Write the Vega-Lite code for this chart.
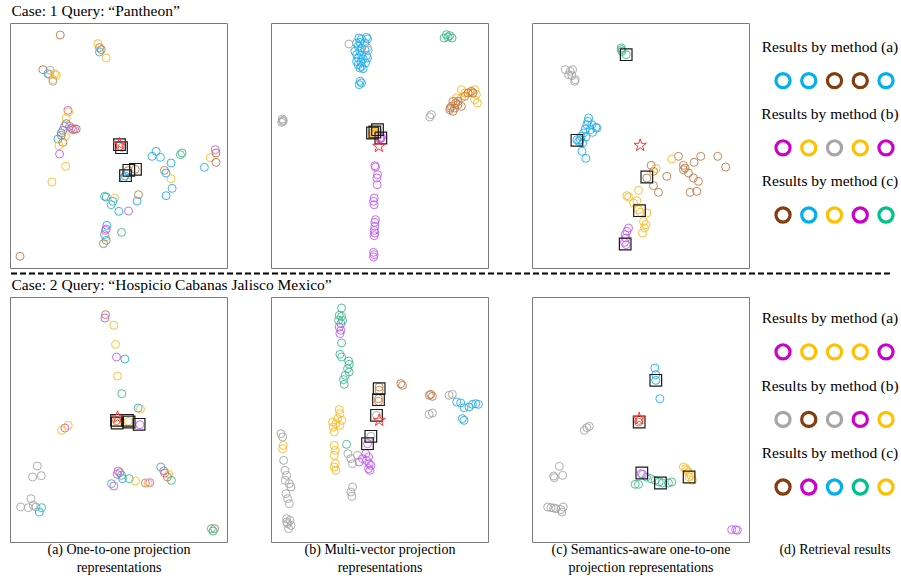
{
  "$schema": "https://vega.github.io/schema/vega-lite/v6.json",
  "padding": {"left": 9, "top": 4, "right": 0, "bottom": 0},
  "background": "white",
  "config": {
    "view": {"stroke": "#7a7a7a", "strokeWidth": 1},
    "title": {"font": "Liberation Serif", "fontSize": 15.5, "fontWeight": "normal", "color": "#000000", "anchor": "start", "offset": 3},
    "axis": {"labels": false, "ticks": false, "domain": false, "grid": false, "titleFont": "Liberation Serif", "titleFontSize": 14, "titleFontWeight": "normal", "titleColor": "#000000", "titlePadding": 0, "titleLineHeight": 18}
  },
  "datasets": {
    "a1": [
      {"x":15.1,"y":69.9,"c":"brown"},{"x":26.4,"y":67.3,"c":"orange"},{"x":26.9,"y":66.1,"c":"brown"},{"x":27.4,"y":65.5,"c":"brown"},{"x":26.9,"y":64.8,"c":"blue"},{"x":28.9,"y":63,"c":"orange"},
      {"x":9.9,"y":59.5,"c":"brown"},{"x":11.4,"y":58.3,"c":"blue"},{"x":12.1,"y":59.3,"c":"gray"},{"x":11.9,"y":58,"c":"gray"},{"x":13.4,"y":58.3,"c":"orange"},{"x":13.9,"y":57.8,"c":"orange"},{"x":12.9,"y":56.5,"c":"orange"},{"x":12.9,"y":56,"c":"gray"},
      {"x":17.4,"y":47.3,"c":"purple"},{"x":17.6,"y":46.8,"c":"orange"},{"x":16.9,"y":45,"c":"orange"},{"x":16.9,"y":43.3,"c":"brown"},{"x":16.4,"y":42.5,"c":"blue"},{"x":17.9,"y":42.5,"c":"brown"},{"x":18.4,"y":41.9,"c":"purple"},{"x":19.4,"y":41.7,"c":"purple"},{"x":18.9,"y":41.5,"c":"brown"},{"x":19.9,"y":41.7,"c":"brown"},{"x":15.9,"y":41.3,"c":"purple"},{"x":15.4,"y":40.5,"c":"blue"},{"x":16.7,"y":39.5,"c":"orange"},{"x":15.4,"y":39.8,"c":"brown"},{"x":15.9,"y":37.7,"c":"brown"},{"x":14.4,"y":38.7,"c":"blue"},{"x":14.7,"y":36.7,"c":"orange"},{"x":14.9,"y":34.2,"c":"purple"},{"x":16.7,"y":30.5,"c":"orange"},{"x":12.6,"y":25.8,"c":"orange"},
      {"x":33,"y":36.6,"c":"blue"},{"x":33.6,"y":36.2,"c":"brown"},{"x":37.6,"y":29.6,"c":"brown"},{"x":35.5,"y":29.2,"c":"brown"},{"x":34.6,"y":27.6,"c":"blue"},{"x":34.2,"y":27.1,"c":"blue"},
      {"x":43.9,"y":35,"c":"blue"},{"x":42.7,"y":33.5,"c":"blue"},{"x":45.2,"y":33.2,"c":"blue"},{"x":48.4,"y":31.5,"c":"blue"},{"x":51.7,"y":34.5,"c":"teal"},{"x":51.2,"y":34,"c":"teal"},{"x":46.4,"y":29.3,"c":"brown"},{"x":46.9,"y":28.5,"c":"blue"},{"x":48.4,"y":26.8,"c":"orange"},{"x":48.7,"y":23.9,"c":"blue"},{"x":46.9,"y":21.7,"c":"blue"},
      {"x":58.4,"y":30.2,"c":"blue"},{"x":60.2,"y":33.1,"c":"orange"},{"x":61.7,"y":35.5,"c":"purple"},{"x":61.9,"y":34.5,"c":"brown"},{"x":61.9,"y":31.7,"c":"brown"},
      {"x":38.6,"y":22,"c":"brown"},{"x":38.2,"y":20.1,"c":"blue"},{"x":28.4,"y":21.5,"c":"teal"},{"x":28.9,"y":21.3,"c":"blue"},{"x":31.4,"y":21,"c":"orange"},{"x":30.9,"y":20,"c":"blue"},{"x":30.4,"y":19,"c":"teal"},{"x":32.7,"y":17,"c":"blue"},{"x":35.6,"y":17.1,"c":"purple"},
      {"x":29.1,"y":12.8,"c":"blue"},{"x":28.9,"y":11.7,"c":"purple"},{"x":28.7,"y":11.3,"c":"purple"},{"x":28.4,"y":10,"c":"blue"},{"x":28.7,"y":9.3,"c":"orange"},{"x":28.9,"y":8.3,"c":"blue"},{"x":28.1,"y":7.3,"c":"brown"},{"x":33.5,"y":10.7,"c":"teal"},{"x":3,"y":3.5,"c":"brown"},
      {"x":32.9,"y":37,"k":"r"},{"x":33.5,"y":36.1,"k":"r"},{"x":37.7,"y":29.6,"k":"r"},{"x":35.7,"y":29.3,"k":"r"},{"x":34.7,"y":27.7,"k":"r"},
      {"x":32.9,"y":37.2,"k":"q"}
    ],
    "b1": [
      {"x":26.4,"y":69,"c":"blue"},{"x":27.2,"y":68.7,"c":"blue"},{"x":28.7,"y":69.2,"c":"blue"},{"x":29,"y":68.7,"c":"blue"},{"x":25.7,"y":67.5,"c":"blue"},{"x":26.7,"y":67.7,"c":"blue"},{"x":28.2,"y":67.5,"c":"blue"},{"x":26.2,"y":66.5,"c":"blue"},{"x":27.2,"y":66,"c":"blue"},{"x":25.2,"y":65,"c":"blue"},{"x":26.7,"y":65,"c":"blue"},{"x":28.2,"y":65.5,"c":"blue"},{"x":25.7,"y":64,"c":"blue"},{"x":27.2,"y":64,"c":"blue"},{"x":28.7,"y":63.7,"c":"blue"},{"x":26.2,"y":63,"c":"blue"},{"x":27.7,"y":62.7,"c":"blue"},{"x":29,"y":63,"c":"blue"},{"x":25.7,"y":62,"c":"blue"},{"x":27,"y":61.7,"c":"blue"},{"x":28.4,"y":61.5,"c":"blue"},{"x":26.2,"y":61,"c":"blue"},{"x":27.2,"y":60.5,"c":"blue"},{"x":26.7,"y":60,"c":"blue"},{"x":27.7,"y":59.8,"c":"blue"},{"x":26.8,"y":56,"c":"blue"},{"x":27.2,"y":55.5,"c":"blue"},{"x":26.5,"y":55,"c":"blue"},
      {"x":23.4,"y":67.2,"c":"gray"},{"x":29,"y":66,"c":"gray"},{"x":29.2,"y":65.3,"c":"gray"},{"x":3.4,"y":44.7,"c":"gray"},{"x":3.7,"y":44.3,"c":"gray"},{"x":3.2,"y":43.7,"c":"gray"},{"x":3.5,"y":44,"c":"gray"},{"x":47.7,"y":45.3,"c":"gray"},{"x":48.2,"y":46,"c":"gray"},
      {"x":52.7,"y":70,"c":"teal"},{"x":53.7,"y":69.7,"c":"teal"},{"x":54.4,"y":69,"c":"teal"},{"x":53.2,"y":69.3,"c":"teal"},{"x":52,"y":69,"c":"teal"},
      {"x":57.2,"y":53.5,"c":"orange"},{"x":58.2,"y":52.5,"c":"orange"},{"x":55.7,"y":51,"c":"orange"},{"x":61.2,"y":53.5,"c":"orange"},{"x":61.7,"y":52,"c":"orange"},{"x":61.2,"y":50.5,"c":"orange"},{"x":62,"y":49.5,"c":"orange"},{"x":57.2,"y":51,"c":"orange"},{"x":59.7,"y":52.8,"c":"orange"},
      {"x":59.2,"y":52.5,"c":"brown"},{"x":60.2,"y":53,"c":"brown"},{"x":54.7,"y":50,"c":"brown"},{"x":54.2,"y":48.5,"c":"brown"},{"x":55.2,"y":48,"c":"brown"},{"x":56.2,"y":49,"c":"brown"},{"x":57.2,"y":48.5,"c":"brown"},{"x":53.7,"y":47.5,"c":"brown"},{"x":54.7,"y":47,"c":"brown"},{"x":58.2,"y":51.5,"c":"brown"},{"x":60.7,"y":52.5,"c":"brown"},{"x":56.2,"y":50,"c":"brown"},{"x":55.5,"y":49.5,"c":"brown"},{"x":53.9,"y":48,"c":"brown"},
      {"x":30.5,"y":40.5,"c":"orange"},{"x":31.2,"y":40.3,"c":"orange"},{"x":31.7,"y":41,"c":"orange"},{"x":30.8,"y":40.8,"c":"orange"},{"x":31.5,"y":40.6,"c":"orange"},{"x":30.9,"y":40.1,"c":"orange"},{"x":31.9,"y":41.3,"c":"orange"},
      {"x":33,"y":39,"c":"purple"},{"x":32.7,"y":38.7,"c":"purple"},{"x":33.2,"y":39.2,"c":"purple"},{"x":32.9,"y":38.9,"c":"purple"},
      {"x":31.2,"y":30.7,"c":"purple"},{"x":31.4,"y":30.3,"c":"purple"},{"x":32,"y":28,"c":"purple"},{"x":31.8,"y":27,"c":"purple"},{"x":31.9,"y":25,"c":"purple"},{"x":31,"y":21,"c":"purple"},{"x":30.8,"y":20,"c":"purple"},{"x":31,"y":19,"c":"purple"},{"x":31.4,"y":14.5,"c":"purple"},{"x":31.2,"y":13.7,"c":"purple"},{"x":31.2,"y":12.5,"c":"purple"},{"x":31,"y":11.3,"c":"purple"},{"x":31.2,"y":10.5,"c":"purple"},{"x":31,"y":9.7,"c":"purple"},{"x":30.8,"y":4.7,"c":"purple"},{"x":31,"y":4,"c":"purple"},{"x":30.8,"y":3.3,"c":"purple"},
      {"x":32,"y":41.5,"k":"r"},{"x":30.5,"y":40.5,"k":"r"},{"x":31.2,"y":40.8,"k":"r"},{"x":33,"y":39,"k":"r"},
      {"x":32.4,"y":36.5,"k":"q"}
    ],
    "c1": [
      {"x":26.8,"y":66,"c":"teal"},{"x":27,"y":65,"c":"teal"},{"x":28.3,"y":64,"c":"teal"},{"x":26.9,"y":65.5,"c":"teal"},
      {"x":10,"y":59.5,"c":"gray"},{"x":11.5,"y":59,"c":"gray"},{"x":12.2,"y":59.5,"c":"gray"},{"x":11,"y":58,"c":"gray"},{"x":12,"y":57.7,"c":"gray"},{"x":13,"y":56.5,"c":"gray"},{"x":12.8,"y":56,"c":"gray"},
      {"x":17,"y":45,"c":"blue"},{"x":16.8,"y":44,"c":"blue"},{"x":16.5,"y":43,"c":"blue"},{"x":18,"y":43,"c":"blue"},{"x":19.2,"y":42.2,"c":"blue"},{"x":16,"y":41.7,"c":"blue"},{"x":17.5,"y":41.5,"c":"blue"},{"x":15.5,"y":40.5,"c":"blue"},{"x":18.2,"y":40.7,"c":"blue"},{"x":14.8,"y":39.5,"c":"blue"},{"x":16.2,"y":39.3,"c":"blue"},{"x":14,"y":38,"c":"blue"},{"x":15.2,"y":37.5,"c":"blue"},{"x":13.5,"y":38.5,"c":"blue"},{"x":14.5,"y":38.5,"c":"blue"},{"x":19.5,"y":42,"c":"blue"},{"x":15,"y":35,"c":"blue"},{"x":16.2,"y":32.9,"c":"blue"},
      {"x":44,"y":33.5,"c":"brown"},{"x":50.7,"y":33.5,"c":"brown"},{"x":55.8,"y":33.5,"c":"brown"},{"x":58.2,"y":30.3,"c":"brown"},{"x":48.7,"y":31.7,"c":"brown"},{"x":45.5,"y":30.8,"c":"brown"},{"x":46,"y":30,"c":"brown"},{"x":45.5,"y":29.5,"c":"brown"},{"x":47,"y":28.5,"c":"brown"},{"x":48.5,"y":27,"c":"brown"},{"x":50,"y":26,"c":"brown"},{"x":47.5,"y":22.7,"c":"brown"},{"x":49.5,"y":23,"c":"brown"},{"x":40.5,"y":27.5,"c":"brown"},{"x":35.8,"y":30.8,"c":"brown"},{"x":36.5,"y":29,"c":"brown"},{"x":34.5,"y":27,"c":"brown"},{"x":36.5,"y":24.7,"c":"brown"},{"x":38,"y":22.7,"c":"brown"},
      {"x":42,"y":32.7,"c":"orange"},{"x":37.3,"y":29.8,"c":"orange"},{"x":32,"y":23.3,"c":"orange"},{"x":28.5,"y":21.7,"c":"orange"},{"x":29,"y":21.3,"c":"orange"},{"x":31.5,"y":20.2,"c":"orange"},{"x":30.5,"y":19.5,"c":"orange"},{"x":32,"y":17.5,"c":"orange"},{"x":34.5,"y":16.5,"c":"orange"},{"x":32.5,"y":16.7,"c":"orange"},{"x":33.5,"y":14,"c":"orange"},{"x":34.2,"y":13,"c":"orange"},{"x":33.8,"y":12,"c":"orange"},{"x":33.2,"y":10.5,"c":"orange"},
      {"x":29,"y":12,"c":"purple"},{"x":28.5,"y":11,"c":"purple"},{"x":28,"y":10,"c":"purple"},{"x":28.2,"y":9,"c":"purple"},{"x":27.8,"y":7.7,"c":"purple"},{"x":28.3,"y":7,"c":"purple"},
      {"x":28.3,"y":64,"k":"r"},{"x":13.5,"y":38.3,"k":"r"},{"x":34.5,"y":27.3,"k":"r"},{"x":32.3,"y":17.2,"k":"r"},{"x":28,"y":7.2,"k":"r"},
      {"x":32.5,"y":36.8,"k":"q"}
    ],
    "a2": [
      {"x":28.7,"y":68.2,"c":"brown"},{"x":28.5,"y":67.2,"c":"purple"},{"x":31.2,"y":65,"c":"orange"},{"x":31.7,"y":59.3,"c":"orange"},{"x":32,"y":55.5,"c":"purple"},{"x":34.5,"y":54.9,"c":"blue"},{"x":32.3,"y":49.8,"c":"orange"},{"x":33.6,"y":44.5,"c":"teal"},{"x":38.5,"y":40.2,"c":"blue"},{"x":39.2,"y":39.9,"c":"orange"},
      {"x":32,"y":36.4,"c":"brown"},{"x":32.3,"y":35.8,"c":"orange"},{"x":35.5,"y":36.2,"c":"orange"},{"x":39,"y":35.2,"c":"purple"},
      {"x":17.5,"y":35,"c":"orange"},{"x":16.5,"y":34.2,"c":"purple"},{"x":15.5,"y":33.5,"c":"orange"},
      {"x":8.2,"y":22.8,"c":"gray"},{"x":6.8,"y":19.5,"c":"gray"},{"x":9.4,"y":19.9,"c":"gray"},{"x":6.3,"y":13,"c":"gray"},{"x":3.2,"y":10.5,"c":"gray"},{"x":5.5,"y":10.3,"c":"gray"},{"x":7,"y":11,"c":"gray"},{"x":7.8,"y":10.5,"c":"gray"},{"x":9.5,"y":10.3,"c":"teal"},{"x":8.8,"y":9,"c":"blue"},
      {"x":32.5,"y":21.3,"c":"purple"},{"x":33,"y":20.8,"c":"brown"},{"x":32.2,"y":20.3,"c":"purple"},{"x":33.5,"y":20,"c":"teal"},{"x":33.8,"y":19,"c":"blue"},{"x":35.8,"y":19,"c":"teal"},{"x":37.7,"y":18.3,"c":"orange"},{"x":30.5,"y":17.5,"c":"teal"},{"x":31.2,"y":16.8,"c":"purple"},{"x":40.7,"y":17.7,"c":"brown"},{"x":42,"y":17.8,"c":"purple"},{"x":41.5,"y":17.7,"c":"orange"},
      {"x":45.3,"y":22.5,"c":"teal"},{"x":46.2,"y":21.3,"c":"purple"},{"x":46.5,"y":20.7,"c":"brown"},{"x":47.7,"y":20.3,"c":"orange"},{"x":47.3,"y":19.5,"c":"brown"},{"x":48.5,"y":18.5,"c":"teal"},
      {"x":60.5,"y":4,"c":"teal"},{"x":61.5,"y":4,"c":"brown"},{"x":61,"y":3.3,"c":"teal"},
      {"x":32,"y":36.5,"k":"r"},{"x":32.2,"y":35.7,"k":"r"},{"x":35.3,"y":36.5,"k":"r"},{"x":35.8,"y":36,"k":"r"},{"x":38.8,"y":35.3,"k":"r"},
      {"x":32.3,"y":37.4,"k":"q"}
    ],
    "b2": [
      {"x":21.2,"y":70.2,"c":"teal"},{"x":20.5,"y":68,"c":"teal"},{"x":21.2,"y":67.7,"c":"teal"},{"x":20.3,"y":66.5,"c":"teal"},{"x":21.5,"y":66.5,"c":"teal"},{"x":21,"y":65.5,"c":"teal"},{"x":21.2,"y":59.7,"c":"teal"},{"x":20.7,"y":56.3,"c":"teal"},{"x":21.2,"y":55.5,"c":"teal"},{"x":23.3,"y":54.3,"c":"teal"},{"x":23.5,"y":53.3,"c":"teal"},{"x":23,"y":52,"c":"teal"},{"x":23.5,"y":51,"c":"teal"},{"x":22.3,"y":50,"c":"teal"},{"x":21.8,"y":48.7,"c":"teal"},{"x":22,"y":47.3,"c":"teal"},{"x":22.7,"y":29.3,"c":"teal"},
      {"x":20.5,"y":64.5,"c":"purple"},{"x":21,"y":63.5,"c":"purple"},{"x":20.7,"y":62.5,"c":"purple"},
      {"x":32.5,"y":46.5,"c":"brown"},{"x":32.5,"y":45.5,"c":"brown"},{"x":32.3,"y":43,"c":"brown"},{"x":32.3,"y":42.2,"c":"brown"},{"x":39,"y":47.5,"c":"brown"},{"x":39.5,"y":47,"c":"brown"},{"x":48,"y":44.3,"c":"brown"},{"x":48.5,"y":43.7,"c":"brown"},{"x":47.6,"y":44,"c":"brown"},
      {"x":53.5,"y":44,"c":"gray"},{"x":54.5,"y":44.3,"c":"gray"},{"x":47.5,"y":38.3,"c":"gray"},{"x":48.5,"y":38.7,"c":"gray"},{"x":31.7,"y":38,"c":"gray"},{"x":30,"y":31.7,"c":"gray"},
      {"x":55.8,"y":42,"c":"blue"},{"x":57,"y":41.7,"c":"blue"},{"x":58,"y":40.3,"c":"blue"},{"x":59.5,"y":40.5,"c":"blue"},{"x":60.5,"y":41.3,"c":"blue"},{"x":61.5,"y":41.5,"c":"blue"},{"x":62.3,"y":41.3,"c":"blue"},{"x":57.5,"y":37,"c":"blue"},{"x":58,"y":36.5,"c":"blue"},
      {"x":20.5,"y":39.7,"c":"orange"},{"x":20.7,"y":38.5,"c":"orange"},{"x":20,"y":37,"c":"orange"},{"x":21.3,"y":36.5,"c":"orange"},{"x":18.5,"y":36,"c":"orange"},{"x":19.5,"y":35.5,"c":"orange"},{"x":20.7,"y":35,"c":"orange"},{"x":18.7,"y":34.5,"c":"orange"},{"x":19,"y":33,"c":"orange"},{"x":19,"y":29,"c":"orange"},{"x":19.3,"y":27.5,"c":"orange"},{"x":19,"y":26,"c":"orange"},{"x":19.3,"y":23.5,"c":"orange"},{"x":19,"y":22.5,"c":"orange"},{"x":19.5,"y":21.5,"c":"orange"},
      {"x":23.1,"y":26.5,"c":"gray"},{"x":24,"y":25,"c":"gray"},{"x":24.5,"y":23.5,"c":"gray"},{"x":26,"y":26,"c":"gray"},{"x":24.5,"y":16.5,"c":"gray"},{"x":24,"y":15,"c":"gray"},{"x":24.3,"y":13.7,"c":"gray"},
      {"x":29,"y":29.5,"c":"purple"},{"x":26.5,"y":24,"c":"purple"},{"x":28.5,"y":26.5,"c":"purple"},{"x":29.3,"y":25.5,"c":"purple"},{"x":28.7,"y":24.5,"c":"purple"},{"x":29.5,"y":23.5,"c":"purple"},{"x":30,"y":23,"c":"purple"},{"x":29.3,"y":22,"c":"purple"},{"x":29.7,"y":21.5,"c":"purple"},{"x":27.5,"y":25,"c":"purple"},
      {"x":3,"y":32.5,"c":"gray"},{"x":3.5,"y":31.5,"c":"gray"},{"x":3.8,"y":24.5,"c":"gray"},{"x":4.2,"y":21.5,"c":"gray"},{"x":4.7,"y":20,"c":"gray"},{"x":4.3,"y":18.5,"c":"gray"},{"x":5.5,"y":17.5,"c":"gray"},{"x":6,"y":16.5,"c":"gray"},{"x":4.5,"y":14.5,"c":"gray"},{"x":5,"y":13,"c":"gray"},{"x":5.5,"y":11.5,"c":"gray"},{"x":4.7,"y":7,"c":"gray"},{"x":5.7,"y":6.5,"c":"gray"},{"x":5,"y":5.5,"c":"gray"},{"x":6,"y":5,"c":"gray"},{"x":5.3,"y":4,"c":"gray"},{"x":4.7,"y":6,"c":"gray"},
      {"x":3.7,"y":29,"c":"orange"},{"x":3.5,"y":28,"c":"orange"},
      {"x":32.5,"y":46,"k":"r"},{"x":32.3,"y":42.7,"k":"r"},{"x":31.7,"y":38,"k":"r"},{"x":30,"y":31.7,"k":"r"},{"x":29,"y":29.5,"k":"r"},
      {"x":32.5,"y":36.5,"k":"q"}
    ],
    "c2": [
      {"x":36.9,"y":52.2,"c":"blue"},{"x":37.2,"y":50.2,"c":"blue"},{"x":37.2,"y":48.5,"c":"blue"},{"x":38.4,"y":43,"c":"blue"},
      {"x":32.2,"y":36.5,"c":"brown"},{"x":32,"y":36,"c":"brown"},
      {"x":15.7,"y":33.5,"c":"gray"},{"x":16.5,"y":34.3,"c":"gray"},{"x":17.2,"y":34.7,"c":"gray"},
      {"x":8.2,"y":22.7,"c":"gray"},{"x":6.5,"y":19.8,"c":"gray"},{"x":9.2,"y":20,"c":"gray"},{"x":6.7,"y":19.3,"c":"gray"},
      {"x":4.7,"y":10.5,"c":"gray"},{"x":5.7,"y":10.3,"c":"gray"},{"x":7.2,"y":10,"c":"gray"},{"x":8.7,"y":9.7,"c":"gray"},{"x":9.4,"y":10.5,"c":"gray"},{"x":9,"y":9,"c":"gray"},{"x":6.5,"y":10.2,"c":"gray"},
      {"x":32.8,"y":20.5,"c":"purple"},{"x":33.2,"y":20.3,"c":"purple"},
      {"x":31,"y":17.3,"c":"teal"},{"x":32,"y":17.3,"c":"teal"},{"x":34.4,"y":19.5,"c":"teal"},{"x":35.7,"y":19,"c":"teal"},{"x":37,"y":18.5,"c":"teal"},{"x":38.2,"y":18,"c":"teal"},{"x":39.2,"y":17.7,"c":"teal"},{"x":41,"y":17.7,"c":"teal"},{"x":42,"y":18,"c":"teal"},
      {"x":45.5,"y":22.5,"c":"orange"},{"x":46.2,"y":22,"c":"orange"},{"x":47,"y":21,"c":"orange"},{"x":47.7,"y":20,"c":"orange"},{"x":48.2,"y":18.5,"c":"orange"},{"x":47.2,"y":19.5,"c":"orange"},{"x":46.5,"y":21.5,"c":"orange"},
      {"x":60,"y":3.7,"c":"purple"},{"x":61.2,"y":3.7,"c":"purple"},{"x":61.7,"y":3.5,"c":"purple"},
      {"x":37.2,"y":48.5,"k":"r"},{"x":32.2,"y":36,"k":"r"},{"x":33,"y":20.7,"k":"r"},{"x":38.6,"y":17.7,"k":"r"},{"x":47.2,"y":19.5,"k":"r"},
      {"x":32.2,"y":37,"k":"q"}
    ],
    "l1": [
      {"line":"ha","label":"Results by method (a)"},{"line":"hb","label":"Results by method (b)"},{"line":"hc","label":"Results by method (c)"},
      {"line":"ca","rank":1,"c":"blue"},{"line":"ca","rank":2,"c":"blue"},{"line":"ca","rank":3,"c":"brown"},{"line":"ca","rank":4,"c":"brown"},{"line":"ca","rank":5,"c":"blue"},
      {"line":"cb","rank":1,"c":"magenta"},{"line":"cb","rank":2,"c":"orange"},{"line":"cb","rank":3,"c":"gray"},{"line":"cb","rank":4,"c":"orange"},{"line":"cb","rank":5,"c":"magenta"},
      {"line":"cc","rank":1,"c":"brown"},{"line":"cc","rank":2,"c":"blue"},{"line":"cc","rank":3,"c":"orange"},{"line":"cc","rank":4,"c":"magenta"},{"line":"cc","rank":5,"c":"teal"}
    ],
    "l2": [
      {"line":"ha","label":"Results by method (a)"},{"line":"hb","label":"Results by method (b)"},{"line":"hc","label":"Results by method (c)"},
      {"line":"ca","rank":1,"c":"magenta"},{"line":"ca","rank":2,"c":"orange"},{"line":"ca","rank":3,"c":"orange"},{"line":"ca","rank":4,"c":"orange"},{"line":"ca","rank":5,"c":"magenta"},
      {"line":"cb","rank":1,"c":"gray"},{"line":"cb","rank":2,"c":"brown"},{"line":"cb","rank":3,"c":"gray"},{"line":"cb","rank":4,"c":"magenta"},{"line":"cb","rank":5,"c":"orange"},
      {"line":"cc","rank":1,"c":"brown"},{"line":"cc","rank":2,"c":"magenta"},{"line":"cc","rank":3,"c":"blue"},{"line":"cc","rank":4,"c":"teal"},{"line":"cc","rank":5,"c":"orange"}
    ]
  },
  "spacing": 3,
  "resolve": {"scale": {"color": "independent"}},
  "vconcat": [
    {
      "title": {"text": "Case: 1 Query: “Pantheon”", "dx": 2},
      "spacing": 10,
      "resolve": {"scale": {"color": "independent"}},
      "hconcat": [
        {
          "spacing": 42,
          "hconcat": [
            {"width":217,"height":245,"data":{"name":"a1"},
             "encoding":{"x":{"field":"x","type":"quantitative","scale":{"domain":[0,65.2],"nice":false,"zero":false},"axis":null},"y":{"field":"y","type":"quantitative","scale":{"domain":[0,73.5],"nice":false,"zero":false},"axis":null}},
             "layer":[
               {"transform":[{"filter":"isValid(datum.c)"}],"mark":{"type":"point","shape":"circle","filled":false,"size":64,"strokeWidth":1,"opacity":0.9},"encoding":{"color":{"field":"c","type":"nominal","scale":{"domain":["blue","brown","purple","orange","gray","teal"],"range":["#22aef0","#c27a45","#c65cf5","#ffbb22","#a6a6a6","#3dbb8f"]},"legend":null}}},
               {"transform":[{"filter":"datum.k==='r'"}],"mark":{"type":"point","shape":"square","filled":false,"size":135,"strokeWidth":1.2,"color":"#1a1a1a","opacity":1}},
               {"transform":[{"filter":"datum.k==='q'"}],"mark":{"type":"point","shape":"M0,-1L0.2245,-0.309L0.951,-0.309L0.363,0.118L0.588,0.809L0,0.382L-0.588,0.809L-0.363,0.118L-0.951,-0.309L-0.2245,-0.309Z","filled":false,"size":170,"strokeWidth":1,"color":"#ff3333","opacity":1}}
             ]},
            {"width":217,"height":245,"data":{"name":"b1"},
             "encoding":{"x":{"field":"x","type":"quantitative","scale":{"domain":[0,65.2],"nice":false,"zero":false},"axis":null},"y":{"field":"y","type":"quantitative","scale":{"domain":[0,73.5],"nice":false,"zero":false},"axis":null}},
             "layer":[
               {"transform":[{"filter":"isValid(datum.c)"}],"mark":{"type":"point","shape":"circle","filled":false,"size":64,"strokeWidth":1,"opacity":0.9},"encoding":{"color":{"field":"c","type":"nominal","scale":{"domain":["blue","brown","purple","orange","gray","teal"],"range":["#22aef0","#c27a45","#c65cf5","#ffbb22","#a6a6a6","#3dbb8f"]},"legend":null}}},
               {"transform":[{"filter":"datum.k==='r'"}],"mark":{"type":"point","shape":"square","filled":false,"size":135,"strokeWidth":1.2,"color":"#1a1a1a","opacity":1}},
               {"transform":[{"filter":"datum.k==='q'"}],"mark":{"type":"point","shape":"M0,-1L0.2245,-0.309L0.951,-0.309L0.363,0.118L0.588,0.809L0,0.382L-0.588,0.809L-0.363,0.118L-0.951,-0.309L-0.2245,-0.309Z","filled":false,"size":170,"strokeWidth":1,"color":"#ff3333","opacity":1}}
             ]},
            {"width":217,"height":245,"data":{"name":"c1"},
             "encoding":{"x":{"field":"x","type":"quantitative","scale":{"domain":[0,65.2],"nice":false,"zero":false},"axis":null},"y":{"field":"y","type":"quantitative","scale":{"domain":[0,73.5],"nice":false,"zero":false},"axis":null}},
             "layer":[
               {"transform":[{"filter":"isValid(datum.c)"}],"mark":{"type":"point","shape":"circle","filled":false,"size":64,"strokeWidth":1,"opacity":0.9},"encoding":{"color":{"field":"c","type":"nominal","scale":{"domain":["blue","brown","purple","orange","gray","teal"],"range":["#22aef0","#c27a45","#c65cf5","#ffbb22","#a6a6a6","#3dbb8f"]},"legend":null}}},
               {"transform":[{"filter":"datum.k==='r'"}],"mark":{"type":"point","shape":"square","filled":false,"size":135,"strokeWidth":1.2,"color":"#1a1a1a","opacity":1}},
               {"transform":[{"filter":"datum.k==='q'"}],"mark":{"type":"point","shape":"M0,-1L0.2245,-0.309L0.951,-0.309L0.363,0.118L0.588,0.809L0,0.382L-0.588,0.809L-0.363,0.118L-0.951,-0.309L-0.2245,-0.309Z","filled":false,"size":170,"strokeWidth":1,"color":"#ff3333","opacity":1}}
             ]}
          ]
        },
        {"width":140,"height":245,"view":{"stroke":null},"data":{"name":"l1"},
         "encoding":{"y":{"field":"line","type":"ordinal","scale":{"domain":["ha","ca","hb","cb","hc","cc"],"range":[24,192],"padding":0},"axis":null}},
         "layer":[
           {"transform":[{"filter":"isValid(datum.label)"}],"mark":{"type":"text","font":"Liberation Serif","fontSize":15.5,"baseline":"middle","align":"center","color":"#000000"},"encoding":{"text":{"field":"label"}}},
           {"transform":[{"filter":"isValid(datum.rank)"}],"mark":{"type":"point","shape":"circle","filled":false,"size":200,"strokeWidth":3.2,"opacity":1},
            "encoding":{"x":{"field":"rank","type":"ordinal","scale":{"range":[23,126],"padding":0},"axis":null},
                        "color":{"field":"c","type":"nominal","scale":{"domain":["blue","brown","magenta","orange","gray","teal"],"range":["#00b0f0","#843c0c","#cc00cc","#ffc000","#a6a6a6","#00c08b"]},"legend":null}}}
         ]}
      ]
    },
    {"width":880,"height":1,"view":{"stroke":null},"data":{"values":[{"id":1}]},
     "mark":{"type":"rule","strokeDash":[6,3],"strokeWidth":2,"color":"#000000"},
     "encoding":{"y":{"datum":0.5,"type":"quantitative","scale":{"domain":[0,1]},"axis":null}}},
    {
      "title": {"text": "Case: 2 Query: “Hospicio Cabanas Jalisco Mexico”", "dx": 2},
      "spacing": 10,
      "resolve": {"scale": {"color": "independent"}},
      "hconcat": [
        {
          "spacing": 42,
          "hconcat": [
            {"width":217,"height":245,"data":{"name":"a2"},
             "encoding":{"x":{"field":"x","type":"quantitative","scale":{"domain":[0,65.2],"nice":false,"zero":false},"axis":{"title":["(a)  One-to-one projection","representations"]}},"y":{"field":"y","type":"quantitative","scale":{"domain":[0,73.5],"nice":false,"zero":false},"axis":null}},
             "layer":[
               {"transform":[{"filter":"isValid(datum.c)"}],"mark":{"type":"point","shape":"circle","filled":false,"size":64,"strokeWidth":1,"opacity":0.9},"encoding":{"color":{"field":"c","type":"nominal","scale":{"domain":["blue","brown","purple","orange","gray","teal"],"range":["#22aef0","#c27a45","#c65cf5","#ffbb22","#a6a6a6","#3dbb8f"]},"legend":null}}},
               {"transform":[{"filter":"datum.k==='r'"}],"mark":{"type":"point","shape":"square","filled":false,"size":135,"strokeWidth":1.2,"color":"#1a1a1a","opacity":1}},
               {"transform":[{"filter":"datum.k==='q'"}],"mark":{"type":"point","shape":"M0,-1L0.2245,-0.309L0.951,-0.309L0.363,0.118L0.588,0.809L0,0.382L-0.588,0.809L-0.363,0.118L-0.951,-0.309L-0.2245,-0.309Z","filled":false,"size":170,"strokeWidth":1,"color":"#ff3333","opacity":1}}
             ]},
            {"width":217,"height":245,"data":{"name":"b2"},
             "encoding":{"x":{"field":"x","type":"quantitative","scale":{"domain":[0,65.2],"nice":false,"zero":false},"axis":{"title":["(b) Multi-vector projection","representations"]}},"y":{"field":"y","type":"quantitative","scale":{"domain":[0,73.5],"nice":false,"zero":false},"axis":null}},
             "layer":[
               {"transform":[{"filter":"isValid(datum.c)"}],"mark":{"type":"point","shape":"circle","filled":false,"size":64,"strokeWidth":1,"opacity":0.9},"encoding":{"color":{"field":"c","type":"nominal","scale":{"domain":["blue","brown","purple","orange","gray","teal"],"range":["#22aef0","#c27a45","#c65cf5","#ffbb22","#a6a6a6","#3dbb8f"]},"legend":null}}},
               {"transform":[{"filter":"datum.k==='r'"}],"mark":{"type":"point","shape":"square","filled":false,"size":135,"strokeWidth":1.2,"color":"#1a1a1a","opacity":1}},
               {"transform":[{"filter":"datum.k==='q'"}],"mark":{"type":"point","shape":"M0,-1L0.2245,-0.309L0.951,-0.309L0.363,0.118L0.588,0.809L0,0.382L-0.588,0.809L-0.363,0.118L-0.951,-0.309L-0.2245,-0.309Z","filled":false,"size":170,"strokeWidth":1,"color":"#ff3333","opacity":1}}
             ]},
            {"width":217,"height":245,"data":{"name":"c2"},
             "encoding":{"x":{"field":"x","type":"quantitative","scale":{"domain":[0,65.2],"nice":false,"zero":false},"axis":{"title":["(c) Semantics-aware one-to-one","projection representations"]}},"y":{"field":"y","type":"quantitative","scale":{"domain":[0,73.5],"nice":false,"zero":false},"axis":null}},
             "layer":[
               {"transform":[{"filter":"isValid(datum.c)"}],"mark":{"type":"point","shape":"circle","filled":false,"size":64,"strokeWidth":1,"opacity":0.9},"encoding":{"color":{"field":"c","type":"nominal","scale":{"domain":["blue","brown","purple","orange","gray","teal"],"range":["#22aef0","#c27a45","#c65cf5","#ffbb22","#a6a6a6","#3dbb8f"]},"legend":null}}},
               {"transform":[{"filter":"datum.k==='r'"}],"mark":{"type":"point","shape":"square","filled":false,"size":135,"strokeWidth":1.2,"color":"#1a1a1a","opacity":1}},
               {"transform":[{"filter":"datum.k==='q'"}],"mark":{"type":"point","shape":"M0,-1L0.2245,-0.309L0.951,-0.309L0.363,0.118L0.588,0.809L0,0.382L-0.588,0.809L-0.363,0.118L-0.951,-0.309L-0.2245,-0.309Z","filled":false,"size":170,"strokeWidth":1,"color":"#ff3333","opacity":1}}
             ]}
          ]
        },
        {"width":140,"height":245,"view":{"stroke":null},"data":{"name":"l2"},
         "encoding":{"y":{"field":"line","type":"ordinal","scale":{"domain":["ha","ca","hb","cb","hc","cc"],"range":[21,190],"padding":0},"axis":null}},
         "layer":[
           {"transform":[{"filter":"isValid(datum.label)"}],"mark":{"type":"text","font":"Liberation Serif","fontSize":15.5,"baseline":"middle","align":"center","color":"#000000"},"encoding":{"text":{"field":"label"}}},
           {"transform":[{"filter":"isValid(datum.rank)"}],"mark":{"type":"point","shape":"circle","filled":false,"size":200,"strokeWidth":3.2,"opacity":1},
            "encoding":{"x":{"field":"rank","type":"ordinal","scale":{"range":[23,126],"padding":0},"axis":{"title":"(d) Retrieval results"}},
                        "color":{"field":"c","type":"nominal","scale":{"domain":["blue","brown","magenta","orange","gray","teal"],"range":["#00b0f0","#843c0c","#cc00cc","#ffc000","#a6a6a6","#00c08b"]},"legend":null}}}
         ]}
      ]
    }
  ]
}
